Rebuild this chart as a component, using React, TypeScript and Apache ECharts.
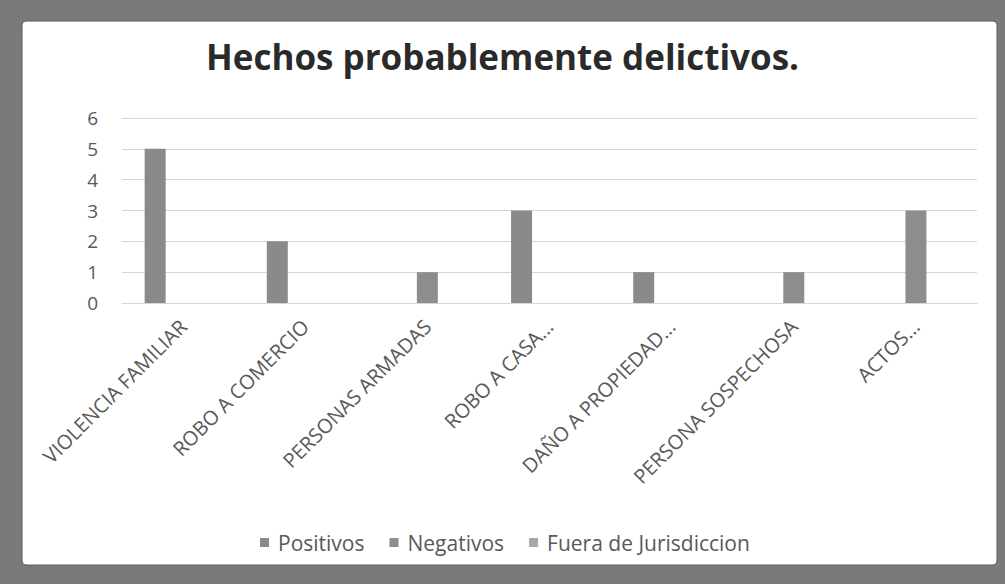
import React, { useEffect, useRef } from "react";
import * as echarts from "echarts";

const title = "Hechos probablemente delictivos.";
const categories = [
  "VIOLENCIA FAMILIAR",
  "ROBO A COMERCIO",
  "PERSONAS ARMADAS",
  "ROBO A CASA...",
  "DAÑO A PROPIEDAD...",
  "PERSONA SOSPECHOSA",
  "ACTOS...",
];
const seriesNames = ["Positivos", "Negativos", "Fuera de Jurisdiccion"];
const positivos = [5, 2, 0, 3, 1, 0, 0];
const negativos = [0, 0, 1, 0, 0, 1, 3];
const fuera = [0, 0, 0, 0, 0, 0, 0];
const yMin = 0;
const yMax = 6;
const yStep = 1;

const FONT = "'Open Sans', 'Noto Sans', sans-serif";
const W = 1005;
const H = 584;

export default function App() {
  const ref = useRef<HTMLDivElement>(null);
  useEffect(() => {
    if (!ref.current) return;
    const chart = echarts.init(ref.current, undefined, { renderer: "svg" });
    const colors = ["#8a8a8a", "#8d8d8d", "#a8a8a8"];
    const values = [positivos, negativos, fuera];
    chart.setOption({
      animation: false,
      backgroundColor: "#7a7a7a",
      color: colors,
      graphic: [
        {
          type: "rect",
          z: 0,
          silent: true,
          shape: { x: 22, y: 21, width: 975, height: 544, r: 4 },
          style: { fill: "#ffffff", stroke: "#5a5a5a", lineWidth: 1 },
        },
      ],
      title: {
        text: title,
        left: "center",
        top: 34,
        textStyle: {
          fontFamily: FONT,
          fontWeight: "bold",
          fontSize: 35,
          color: "#2a2a2a",
        },
      },
      legend: {
        data: seriesNames,
        left: 255,
        top: 527,
        itemWidth: 9,
        itemHeight: 9,
        itemGap: 25,
        icon: "rect",
        textStyle: {
          fontFamily: FONT,
          fontSize: 21,
          color: "#595959",
          padding: [0, 0, 0, 4],
        },
      },
      grid: {
        left: 122,
        right: 28,
        top: 118,
        bottom: H - 303,
        containLabel: false,
      },
      xAxis: {
        type: "category",
        data: categories,
        axisTick: { show: false },
        axisLine: { show: true, lineStyle: { color: "#d6d6d6", width: 1 } },
        axisLabel: {
          rotate: 45,
          interval: 0,
          margin: 20,
          fontFamily: FONT,
          fontSize: 20,
          color: "#595959",
        },
      },
      yAxis: {
        type: "value",
        min: yMin,
        max: yMax,
        interval: yStep,
        axisLine: { show: false },
        axisTick: { show: false },
        splitLine: { lineStyle: { color: "#d6d6d6", width: 1 } },
        axisLabel: {
          margin: 24,
          fontFamily: FONT,
          fontSize: 19,
          color: "#595959",
        },
      },
      series: seriesNames.map((name, i) => ({
        name,
        type: "bar",
        data: values[i],
        barWidth: 21,
        barGap: "33%",
        itemStyle: { color: colors[i] },
      })),
    });
    return () => chart.dispose();
  }, []);
  return (
    <div
      ref={ref}
      style={{ position: "fixed", left: 0, top: 0, width: W, height: H }}
    />
  );
}
